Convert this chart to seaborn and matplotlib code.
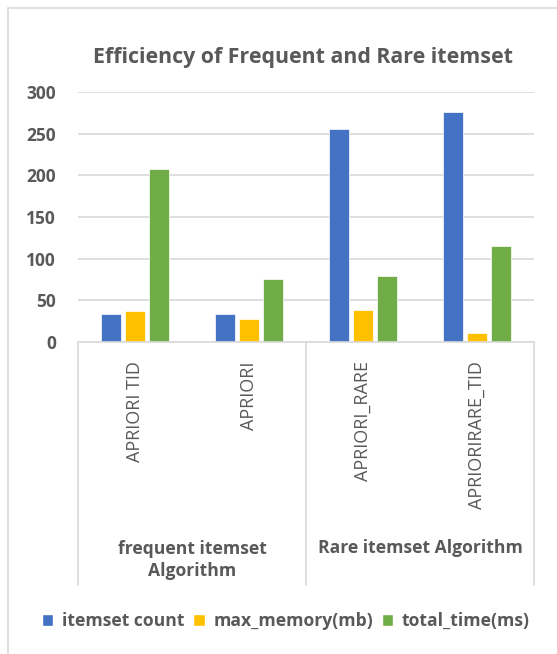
import pandas as pd
import seaborn as sns
import matplotlib.pyplot as plt
from matplotlib.patches import Patch, Rectangle
import matplotlib.transforms as mtransforms

# chart data
algorithms = ['APRIORI TID', 'APRIORI', 'APRIORI_RARE', 'APRIORIRARE_TID']
groups = ['frequent itemset\nAlgorithm', 'Rare itemset Algorithm']
metrics = ['itemset count', 'max_memory(mb)', 'total_time(ms)']
itemset_count = [34, 34, 256, 276]
max_memory = [37, 28, 39, 11]
total_time = [208, 76, 79, 115]
colors = ['#4472C4', '#FFC000', '#70AD47']

rows = []
for m, vals in zip(metrics, [itemset_count, max_memory, total_time]):
    for a, v in zip(algorithms, vals):
        rows.append({'algorithm': a, 'metric': m, 'value': v})
df = pd.DataFrame(rows)

sns.set_style('white')
plt.rcParams['font.family'] = ['Open Sans', 'DejaVu Sans']
txt = '#595959'
grid = '#D9D9D9'

fig = plt.figure(figsize=(5.57, 6.54), dpi=100)
ax = fig.add_axes([78 / 557, 1 - 342 / 654, 456 / 557, 250 / 654])

sns.barplot(data=df, x='algorithm', y='value', hue='metric', order=algorithms,
            hue_order=metrics, palette=colors, saturation=1, width=0.63, gap=0.16,
            edgecolor='white', linewidth=0.5, ax=ax, legend=False)

ax.set_ylim(0, 300)
ax.set_yticks(range(0, 301, 50))
ax.set_xlim(-0.5, 3.5)
ax.yaxis.grid(True, color=grid, linewidth=1.2)
ax.set_axisbelow(True)
for s in ['top', 'right', 'left']:
    ax.spines[s].set_visible(False)
ax.spines['bottom'].set_color(grid)
ax.spines['bottom'].set_linewidth(1.2)
ax.set_xlabel('')
ax.set_ylabel('')
ax.tick_params(axis='y', length=0, pad=16, labelsize=12.5, labelcolor=txt)
for lab in ax.get_yticklabels():
    lab.set_fontweight('bold')
ax.tick_params(axis='x', length=0, pad=14, labelsize=13, labelcolor=txt, rotation=90)

# group separators and labels under the axis
trans = mtransforms.blended_transform_factory(ax.transData, ax.transAxes)
for x in [-0.5, 1.5, 3.5]:
    ax.plot([x, x], [0, -243 / 250], transform=trans, color=grid, lw=1.2, clip_on=False)
ax.text(0.5, -(560 - 342) / 250, groups[0], transform=trans, ha='center', va='center',
        fontsize=12.6, fontweight='bold', color=txt, linespacing=1.3)
ax.text(2.5, -(548 - 342) / 250, groups[1], transform=trans, ha='center', va='center',
        fontsize=12.6, fontweight='bold', color=txt)

fig.suptitle('Efficiency of Frequent and Rare itemset', x=303 / 557, y=1 - 57 / 654,
             va='center', fontsize=15.4, fontweight='bold', color=txt)

handles = [Patch(facecolor=c, label=m) for c, m in zip(colors, metrics)]
leg = fig.legend(handles=handles, loc='center', bbox_to_anchor=(286 / 557, 1 - 621 / 654),
                 ncol=3, frameon=False, handlelength=0.65, handleheight=0.65,
                 handletextpad=0.5, columnspacing=0.5, fontsize=12.6)
for t in leg.get_texts():
    t.set_color(txt)
    t.set_fontweight('bold')

# chart area frame (clipped by image edge)
fig.patches.append(Rectangle((8 / 557, -0.05), 1.1, 1 - 8 / 654 + 0.05, transform=fig.transFigure,
                             fill=False, edgecolor=grid, lw=1.2))

fig.savefig('out.png', dpi=100)
